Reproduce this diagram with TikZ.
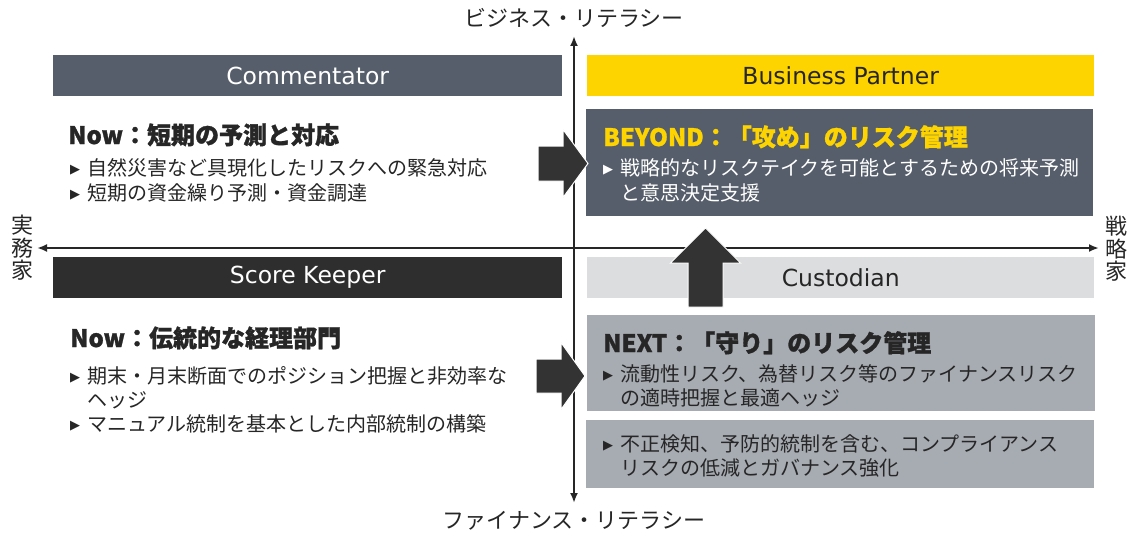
\documentclass[tikz,border=0pt]{standalone}
\usepackage{fontspec}
\setmainfont{Noto Sans CJK JP}
\newfontfamily\latf{DejaVu Sans}
\newfontfamily\dvf{DejaVu Sans}
\usetikzlibrary{arrows.meta}
\definecolor{slate}{HTML}{555E6A}
\definecolor{eyyellow}{HTML}{FDD300}
\definecolor{skdark}{HTML}{2E2E2E}
\definecolor{custgray}{HTML}{DCDDDF}
\definecolor{midgray}{HTML}{A7ACB2}
\definecolor{ink}{HTML}{262626}
\definecolor{arrowfill}{HTML}{333333}
\newcommand\bul{\makebox[17pt][l]{\raisebox{1.6pt}{\dvf\fontsize{13}{13}\selectfont ▶}}}
\newcommand\ind{\hspace*{17pt}}
\tikzset{
  box/.style={draw=none, inner sep=0pt, anchor=north west},
  hdr/.style={inner sep=0pt, font=\latf\fontsize{23.5}{23.5}\selectfont},
  ttl/.style={anchor=base west, inner sep=0pt, font=\bfseries\addfontfeature{FakeBold=1.2}\fontsize{24}{24}\selectfont},
  txt/.style={anchor=base west, inner sep=0pt, align=left, font=\fontsize{20}{25}\selectfont},
  axlbl/.style={inner sep=0pt, align=center, font=\fontsize{22}{22.5}\selectfont, text=ink},
  blockarrow/.style={fill=arrowfill, draw=white, line width=1pt},
  axisline/.style={line width=2.2pt, draw=ink, {Latex[length=10pt,width=8pt]}-{Latex[length=10pt,width=8pt]}}
}
\begin{document}
\begin{tikzpicture}[x=1pt,y=-1pt]
\useasboundingbox[fill=white] (0,0) rectangle (1135,535);
% axes
\coordinate (ytop) at (574,36);
\coordinate (ybot) at (574,503);
\coordinate (xl) at (37,248);
\coordinate (xr) at (1099,248);
\draw[axisline] (ytop) -- (ybot);
\draw[axisline] (xl) -- (xr);
\node[axlbl] (lbltop) at (574,18) {ビジネス・リテラシー};
\node[axlbl] (lblbot) at (574,521) {ファイナンス・リテラシー};
\node[axlbl] (lblleft) at (22,248) {実\\務\\家};
\node[axlbl] (lblright) at (1116,249) {戦\\略\\家};
% header boxes
\node[box, fill=slate, minimum width=509pt, minimum height=41pt] (comm) at (53,55) {};
\node[hdr, text=white] (commt) at (comm.center) {Commentator};
\node[box, fill=eyyellow, minimum width=507pt, minimum height=41pt] (bp) at (587,55) {};
\node[hdr, text=ink] (bpt) at (bp.center) {Business Partner};
\node[box, fill=skdark, minimum width=509pt, minimum height=41pt] (sk) at (53,257) {};
\node[hdr, text=white] (skt) at (sk.center) {Score Keeper};
\node[box, fill=custgray, minimum width=507pt, minimum height=41pt] (cust) at (587,257) {};
\node[hdr, text=ink] (custt) at (cust.center) {Custodian};
% content boxes
\node[box, fill=slate, minimum width=507pt, minimum height=107pt] (beyond) at (586,109) {};
\node[box, fill=midgray, minimum width=508pt, minimum height=96pt] (next) at (587,315) {};
\node[box, fill=midgray, minimum width=508pt, minimum height=68pt] (comp) at (586,420) {};
% upper left text (base anchor = last line baseline)
\node[ttl, text=ink] (now1) at (68,144) {Now：短期の予測と対応};
\node[txt, text=ink] (now1b) at (70,200) {\bul 自然災害など具現化したリスクへの緊急対応\\\bul 短期の資金繰り予測・資金調達};
% lower left text
\node[ttl, text=ink] (now2) at (70,347) {Now：伝統的な経理部門};
\node[txt, text=ink, font=\fontsize{20}{24}\selectfont] (now2b) at (70,431) {\bul 期末・月末断面でのポジション把握と非効率な\\\ind ヘッジ\\\bul マニュアル統制を基本とした内部統制の構築};
% beyond
\node[ttl, text=eyyellow] (beyondt) at (603,146) {BEYOND：「攻め」のリスク管理};
\node[txt, text=white] (beyondb) at (603,200) {\bul 戦略的なリスクテイクを可能とするための将来予測\\\ind と意思決定支援};
% next
\node[ttl, text=ink] (nextt) at (603,352) {NEXT：「守り」のリスク管理};
\node[txt, text=ink, font=\fontsize{20}{24}\selectfont] (nextb) at (603,405) {\bul 流動性リスク、為替リスク等のファイナンスリスク\\\ind の適時把握と最適ヘッジ};
\node[txt, text=ink, font=\fontsize{20}{24}\selectfont] (compb) at (603,475) {\bul 不正検知、予防的統制を含む、コンプライアンス\\\ind リスクの低減とガバナンス強化};
% block arrows
\draw[blockarrow] (538,146) -- (563,146) -- (563,129.5) -- (588,163.5) -- (563,197.5) -- (563,181) -- (538,181) -- cycle;
\draw[blockarrow] (536,359) -- (561,359) -- (561,342.5) -- (585,376) -- (561,409.5) -- (561,393) -- (536,393) -- cycle;
\draw[blockarrow] (688,307) -- (688,263) -- (670.5,263) -- (705.5,228) -- (740.5,263) -- (723,263) -- (723,307) -- cycle;
\end{tikzpicture}
\end{document}
